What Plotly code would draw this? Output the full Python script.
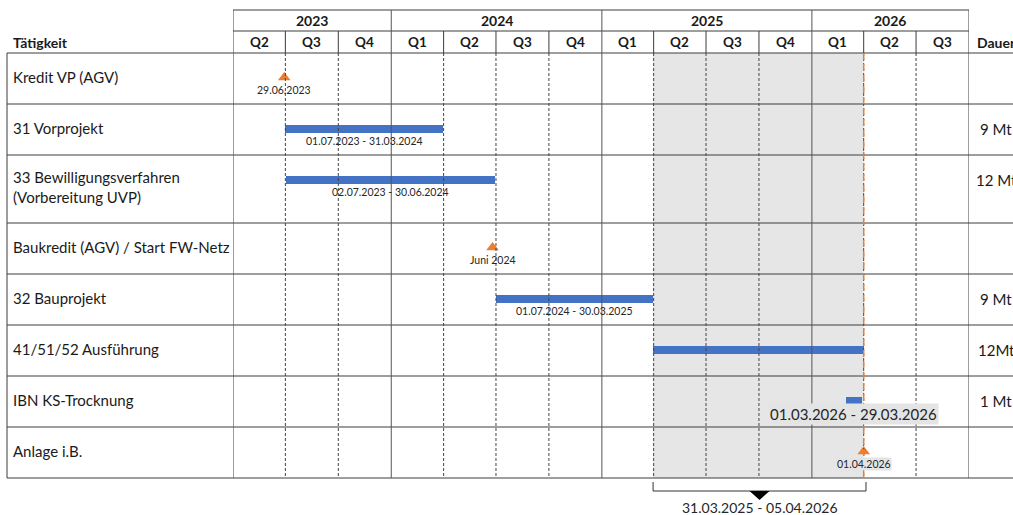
import pandas as pd
import plotly.graph_objects as go

# ---------------- data ----------------
tasks = ["Kredit VP (AGV)", "31 Vorprojekt", "33 Bewilligungsverfahren<br>(Vorbereitung UVP)",
         "Baukredit (AGV) / Start FW-Netz", "32 Bauprojekt", "41/51/52 Ausführung",
         "IBN KS-Trocknung", "Anlage i.B."]
task_type = ["milestone", "bar", "bar", "milestone", "bar", "bar", "bar", "milestone"]
starts = ["2023-06-29", "2023-07-01", "2023-07-02", "2024-06-25", "2024-07-01",
          "2025-03-31", "2026-03-01", "2026-04-01"]
ends = [None, "2024-03-31", "2024-06-30", None, "2025-03-30", "2026-04-01", "2026-03-29", None]
date_labels = ["29.06.2023", "01.07.2023 - 31.03.2024", "02.07.2023 - 30.06.2024", "Juni 2024",
               "01.07.2024 - 30.03.2025", "", "01.03.2026 - 29.03.2026", "01.04.2026"]
durations = ["", "9 Mt", "12 Mt", "", "9 Mt", "12Mt", "1 Mt", ""]
years = ["2023", "2024", "2025", "2026"]
quarters = ["Q2", "Q3", "Q4", "Q1", "Q2", "Q3", "Q4", "Q1", "Q2", "Q3", "Q4", "Q1", "Q2", "Q3"]
timeline_start = "2023-04-01"
timeline_end = "2026-10-01"
focus_start = "2025-03-31"
focus_end = "2026-04-05"
shade_end = "2026-04-01"
focus_label = "31.03.2025 - 05.04.2026"

# ---------------- layout constants ----------------
W, H = 1013, 515
X0, X1 = 233, 969          # timeline area (px)
LBL_LEFT = 7
HEAD_TOP, YEAR_BOT, HEAD_BOT = 10, 31, 53
row_heights = [51, 51, 68, 51, 51, 51, 51, 51]
DAUER_X = 996
FONT = "Lato"
LINE = "#3c3c3c"
ORANGE = "#ED7D31"
BLUE = "#4472C4"
SHADE = "#E7E6E6"
TXT = "#1a1a1a"

row_tops = [HEAD_BOT]
for h in row_heights:
    row_tops.append(row_tops[-1] + h)
TABLE_BOT = row_tops[-1]

def px(x):
    return x / W

T = pd.Timestamp
shapes = []
annotations = []

def hline(y, x0, x1, xref="x", color=LINE, width=1, dash="solid"):
    shapes.append(dict(type="line", xref=xref, yref="y", x0=x0, x1=x1, y0=y, y1=y,
                       line=dict(color=color, width=width, dash=dash), layer="above"))

def vline(x, y0, y1, xref="x", color=LINE, width=1, dash="solid"):
    shapes.append(dict(type="line", xref=xref, yref="y", x0=x, x1=x, y0=y0, y1=y1,
                       line=dict(color=color, width=width, dash=dash), layer="above"))

# shaded focus period
shapes.append(dict(type="rect", xref="x", yref="y", x0=focus_start, x1=shade_end,
                   y0=HEAD_BOT, y1=TABLE_BOT, fillcolor=SHADE, line_width=0, layer="below"))

# header lines
hline(HEAD_TOP, timeline_start, timeline_end)
hline(YEAR_BOT, timeline_start, timeline_end)
for y in row_tops:
    hline(y, px(LBL_LEFT), 1, xref="paper")
vline(px(LBL_LEFT), HEAD_BOT, TABLE_BOT, xref="paper")
vline(timeline_start, HEAD_TOP, TABLE_BOT)
vline(timeline_end, HEAD_TOP, TABLE_BOT)

q_bounds = list(pd.date_range(timeline_start, timeline_end, freq="QS"))
year_bounds = [T(timeline_start)] + [T(f"{y}-01-01") for y in years[1:]] + [T(timeline_end)]
for b in q_bounds[1:-1]:
    if b.month == 1:
        vline(b, HEAD_TOP, TABLE_BOT, color="#555555")
    else:
        vline(b, YEAR_BOT, HEAD_BOT)
        vline(b, HEAD_BOT, TABLE_BOT, dash="3px,2px", color="#444444")

# orange "today" line
vline(shade_end, HEAD_BOT, TABLE_BOT, color=ORANGE, width=1.5, dash="7px,4px")

# header texts
for i, y in enumerate(years):
    mid = year_bounds[i] + (year_bounds[i + 1] - year_bounds[i]) / 2
    annotations.append(dict(x=mid, y=(HEAD_TOP + YEAR_BOT) / 2, xref="x", yref="y", text=f"<b>{y}</b>",
                            xanchor="center", showarrow=False, font=dict(size=14, color=TXT, family=FONT)))
for i, q in enumerate(quarters):
    mid = q_bounds[i] + (q_bounds[i + 1] - q_bounds[i]) / 2
    annotations.append(dict(x=mid, y=(YEAR_BOT + HEAD_BOT) / 2, xref="x", yref="y", text=f"<b>{q}</b>",
                            xanchor="center", showarrow=False, font=dict(size=13.5, color=TXT, family=FONT)))
annotations.append(dict(x=px(11), y=(YEAR_BOT + HEAD_BOT) / 2, xref="paper", yref="y",
                        text="<b>Tätigkeit</b>", xanchor="left", showarrow=False,
                        font=dict(size=14, color=TXT, family=FONT)))
annotations.append(dict(x=px(975), y=(YEAR_BOT + HEAD_BOT) / 2, xref="paper", yref="y",
                        text="<b>Dauer</b>", xanchor="left", showarrow=False,
                        font=dict(size=14, color=TXT, family=FONT)))

# row texts
bar_x, bar_base, bar_y = [], [], []
ms_x, ms_y = [], []
for i, name in enumerate(tasks):
    top, bot = row_tops[i], row_tops[i + 1]
    annotations.append(dict(x=px(11), y=(top + bot) / 2 - 2, xref="paper", yref="y", text=name,
                            xanchor="left", align="left", showarrow=False,
                            font=dict(size=15, color=TXT, family=FONT)))
    if durations[i]:
        annotations.append(dict(x=px(DAUER_X), y=top + 25, xref="paper", yref="y", text=durations[i],
                                xanchor="center", showarrow=False,
                                font=dict(size=15, color=TXT, family=FONT)))
    mark_y = top + 24.5
    if task_type[i] == "bar":
        s, e = T(starts[i]), T(ends[i])
        bar_base.append(starts[i])
        bar_x.append((e - s).total_seconds() * 1000)
        bar_y.append(mark_y)
        mid = s + (e - s) / 2
    else:
        ms_x.append(starts[i])
        ms_y.append(mark_y)
        mid = T(starts[i])
    if date_labels[i]:
        big = task_type[i] == "bar" and (T(ends[i]) - T(starts[i])).days < 45
        if big:
            annotations.append(dict(x=mid, y=mark_y + 13.5, xref="x", yref="y", text=date_labels[i],
                                    xanchor="center", showarrow=False, bgcolor="#E4E4E4", borderpad=1,
                                    font=dict(size=15, color="#262626", family=FONT)))
        else:
            annotations.append(dict(x=mid, y=mark_y + (12.5 if task_type[i] == "milestone" else 12),
                                    xref="x", yref="y", text=date_labels[i], showarrow=False,
                                    xanchor="center",
                                    bgcolor=("#E4E4E4" if T(starts[i]) >= T(shade_end) else None),
                                    borderpad=0,
                                    font=dict(size=10.5, color="#262626", family=FONT)))

# bracket for focus period
BR_TOP, BR_Y = TABLE_BOT + 4, TABLE_BOT + 13
vline(focus_start, BR_TOP, BR_Y, color="#333333")
vline(focus_end, BR_TOP, BR_Y, color="#333333")
hline(BR_Y, focus_start, focus_end, color="#333333")
f_mid = T(focus_start) + (T(focus_end) - T(focus_start)) / 2
shapes.append(dict(type="path", xref="x", yref="y", xsizemode="pixel", ysizemode="pixel",
                   xanchor=f_mid, yanchor=BR_Y, path="M-10,0 L10,0 L0,-9 Z",
                   fillcolor="black", line_width=0, layer="above"))
annotations.append(dict(x=f_mid, y=BR_Y + 16, xref="x", yref="y", text=focus_label,
                        xanchor="center", showarrow=False, font=dict(size=14, color="#262626", family=FONT)))

fig = go.Figure()
fig.add_trace(go.Bar(orientation="h", base=bar_base, x=bar_x, y=bar_y, width=8,
                     marker=dict(color=BLUE, line_width=0), hoverinfo="skip", showlegend=False))
fig.add_trace(go.Scatter(x=ms_x, y=ms_y, mode="markers",
                         marker=dict(symbol="triangle-up", size=11, color=ORANGE),
                         hoverinfo="skip", showlegend=False))

fig.update_layout(
    width=W, height=H, margin=dict(l=0, r=0, t=0, b=0),
    paper_bgcolor="white", plot_bgcolor="rgba(0,0,0,0)",
    xaxis=dict(type="date", range=[timeline_start, timeline_end], domain=[px(X0), px(X1)],
               visible=False, fixedrange=True),
    yaxis=dict(range=[H, 0], domain=[0, 1], visible=False, fixedrange=True),
    shapes=shapes, annotations=annotations, bargap=0,
)
fig.write_html("out.html")
